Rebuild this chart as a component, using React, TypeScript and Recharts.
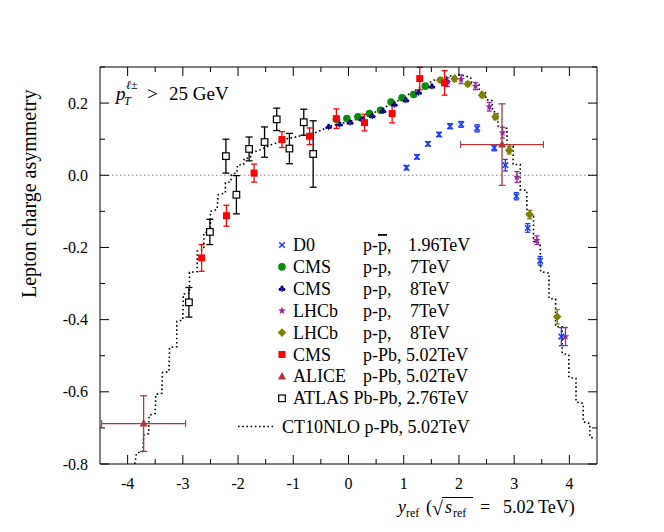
import React from 'react';
import { ComposedChart, Scatter, Line, XAxis, YAxis, ErrorBar, ReferenceLine } from 'recharts';

const FONT = '"Liberation Serif", "Times New Roman", serif';

// axis ticks
const xTicks = [-4, -3.5, -3, -2.5, -2, -1.5, -1, -0.5, 0, 0.5, 1, 1.5, 2, 2.5, 3, 3.5, 4];
const yTicks = [-0.8, -0.7, -0.6, -0.5, -0.4, -0.3, -0.2, -0.1, 0, 0.1, 0.2, 0.3];

// D0 p-pbar 1.96 TeV
const d0X = [1.05, 1.24, 1.44, 1.64, 1.84, 2.04, 2.33, 2.64, 2.84, 3.04, 3.245, 3.47, 3.855];
const d0Y = [0.021, 0.051, 0.087, 0.113, 0.136, 0.141, 0.13, 0.076, 0.028, -0.058, -0.146, -0.237, -0.447];
const d0Err = [0.006, 0.006, 0.006, 0.006, 0.007, 0.008, 0.01, 0.008, 0.016, 0.01, 0.012, 0.012, 0.025];

// CMS p-p 7 TeV
const cms7X = [-0.22, -0.03, 0.17, 0.38, 0.58, 0.77, 0.97, 1.18, 1.39];
const cms7Y = [0.155, 0.157, 0.162, 0.171, 0.18, 0.203, 0.215, 0.224, 0.247];

// CMS p-p 8 TeV
const cms8X = [-0.36, -0.16, 0.03, 0.245, 0.43, 0.625, 0.83, 1.04, 1.27, 1.51, 1.78];
const cms8Y = [0.134, 0.141, 0.146, 0.155, 0.164, 0.178, 0.196, 0.208, 0.229, 0.246, 0.261];

// LHCb p-p 7 TeV
const lhcb7X = [1.79, 2.04, 2.3, 2.55, 2.79, 3.05, 3.41, 3.93];
const lhcb7Y = [0.258, 0.266, 0.247, 0.19, 0.118, -0.005, -0.18, -0.447];
const lhcb7Err = [0.012, 0.012, 0.01, 0.012, 0.015, 0.015, 0.012, 0.025];

// LHCb p-p 8 TeV
const lhcb8X = [1.66, 1.92, 2.16, 2.42, 2.66, 2.91, 3.28, 3.78];
const lhcb8Y = [0.264, 0.267, 0.253, 0.222, 0.162, 0.069, -0.109, -0.392];
const lhcb8Err = [0.006, 0.006, 0.006, 0.007, 0.008, 0.01, 0.012, 0.02];

// CMS p-Pb 5.02 TeV
const cmsPbX = [-2.66, -2.21, -1.71, -1.205, -0.705, -0.22, 0.29, 0.79, 1.29, 1.74];
const cmsPbY = [-0.229, -0.112, 0.006, 0.099, 0.108, 0.157, 0.146, 0.171, 0.268, 0.256];
const cmsPbErr = [0.037, 0.029, 0.025, 0.022, 0.023, 0.027, 0.023, 0.026, 0.031, 0.034];

// ALICE p-Pb 5.02 TeV
const aliceX = [-3.71, 2.78];
const aliceY = [-0.688, 0.085];
const aliceYErr = [0.077, 0.113];
const aliceXErr = [0.76, 0.75];

// ATLAS Pb-Pb 2.76 TeV
const atlasX = [-2.89, -2.51, -2.22, -2.03, -1.8, -1.52, -1.3, -1.07, -0.81, -0.64];
const atlasY = [-0.352, -0.157, 0.053, -0.054, 0.073, 0.092, 0.155, 0.074, 0.147, 0.059];
const atlasErr = [0.041, 0.035, 0.047, 0.053, 0.033, 0.042, 0.031, 0.042, 0.036, 0.092];

// CT10NLO p-Pb 5.02 TeV (step-like theory curve)
const ct10X = [-3.87, -3.84, -3.72, -3.71, -3.62, -3.61, -3.5, -3.49, -3.38, -3.37, -3.25, -3.24, -3.11, -3.11, -3.0, -2.99, -2.88, -2.88, -2.74, -2.74, -2.62, -2.62, -2.5, -2.5, -2.38, -2.36, -2.23, -2.23, -2.13, -2.12, -2.02, -2.01, -1.9, -1.89, -1.78, -1.75, -1.6, -1.39, -1.11, -0.81, -0.6, -0.33, 0.03, 0.335, 0.64, 0.94, 1.24, 1.54, 1.84, 1.99, 2.12, 2.21, 2.23, 2.36, 2.37, 2.48, 2.49, 2.6, 2.61, 2.7, 2.71, 2.87, 2.87, 2.98, 2.98, 3.11, 3.11, 3.23, 3.23, 3.35, 3.35, 3.47, 3.48, 3.63, 3.63, 3.75, 3.75, 3.87, 3.87, 3.99, 3.99, 4.12, 4.12, 4.25, 4.25, 4.37, 4.37, 4.47];
const ct10Y = [-0.8, -0.77, -0.765, -0.72, -0.716, -0.665, -0.66, -0.607, -0.604, -0.547, -0.544, -0.477, -0.475, -0.405, -0.401, -0.329, -0.327, -0.269, -0.267, -0.21, -0.205, -0.16, -0.155, -0.1, -0.095, -0.054, -0.049, -0.021, -0.018, 0.002, 0.007, 0.028, 0.03, 0.046, 0.048, 0.062, 0.071, 0.085, 0.101, 0.111, 0.118, 0.136, 0.15, 0.164, 0.187, 0.21, 0.238, 0.263, 0.275, 0.278, 0.275, 0.271, 0.257, 0.252, 0.233, 0.229, 0.21, 0.207, 0.178, 0.173, 0.136, 0.13, 0.081, 0.081, 0.03, 0.03, -0.04, -0.042, -0.109, -0.114, -0.183, -0.188, -0.267, -0.271, -0.341, -0.343, -0.419, -0.42, -0.493, -0.498, -0.56, -0.563, -0.628, -0.632, -0.683, -0.688, -0.725, -0.73];

const pts = (xs: number[], ys: number[], ey?: number[], ex?: number[]) =>
  xs.map((x, i) => ({ x, y: ys[i], ey: ey ? ey[i] : 0, ex: ex ? ex[i] : 0 }));

const COL = {
  d0: '#1a3cff',
  cms7: '#0a8a0a',
  cms8: '#000080',
  lhcb7: '#9a2a9a',
  lhcb8: '#808000',
  cmsPb: '#ff0000',
  alice: '#b03838',
  atlas: '#000000',
};

// marker drawings
const markD0 = (cx: number, cy: number) => (
  <g stroke={COL.d0} strokeWidth={1.5}>
    <line x1={cx - 2.8} y1={cy - 2.8} x2={cx + 2.8} y2={cy + 2.8} />
    <line x1={cx - 2.8} y1={cy + 2.8} x2={cx + 2.8} y2={cy - 2.8} />
  </g>
);
const markCms7 = (cx: number, cy: number) => <circle cx={cx} cy={cy} r={3.8} fill={COL.cms7} />;
const markCms8 = (cx: number, cy: number) => (
  <g fill={COL.cms8}>
    <circle cx={cx} cy={cy - 1.6} r={1.6} />
    <circle cx={cx - 1.8} cy={cy + 0.6} r={1.6} />
    <circle cx={cx + 1.8} cy={cy + 0.6} r={1.6} />
    <rect x={cx - 0.6} y={cy} width={1.2} height={3} />
  </g>
);
const starPath = (cx: number, cy: number, r: number) => {
  let d = '';
  for (let i = 0; i < 10; i++) {
    const rr = i % 2 === 0 ? r : r * 0.42;
    const a = -Math.PI / 2 + (i * Math.PI) / 5;
    d += (i === 0 ? 'M' : 'L') + (cx + rr * Math.cos(a)).toFixed(2) + ',' + (cy + rr * Math.sin(a)).toFixed(2);
  }
  return d + 'Z';
};
const markLhcb7 = (cx: number, cy: number) => <path d={starPath(cx, cy, 4)} fill={COL.lhcb7} />;
const markLhcb8 = (cx: number, cy: number) => (
  <path d={`M${cx},${cy - 4.3}L${cx + 4.3},${cy}L${cx},${cy + 4.3}L${cx - 4.3},${cy}Z`} fill={COL.lhcb8} />
);
const markCmsPb = (cx: number, cy: number) => <rect x={cx - 3.5} y={cy - 3.5} width={7} height={7} fill={COL.cmsPb} />;
const markAlice = (cx: number, cy: number) => (
  <path d={`M${cx},${cy - 4.5}L${cx + 4},${cy + 3}L${cx - 4},${cy + 3}Z`} fill={COL.alice} />
);
const markAtlas = (cx: number, cy: number) => (
  <rect x={cx - 3.3} y={cy - 3.3} width={6.6} height={6.6} fill="#fff" stroke="#000" strokeWidth={1.2} />
);

const shapeOf = (fn: (cx: number, cy: number) => React.ReactElement) => (p: any) => fn(p.cx, p.cy);

// inward ticks on all four sides
const BottomTick = ({ x, y, payload }: any) => {
  const v = payload.value;
  const major = Number.isInteger(v);
  return (
    <g>
      <line x1={x} y1={y} x2={x} y2={y - (major ? 9 : 5)} stroke="#000" />
      {major && (
        <text x={x} y={y + 25} textAnchor="middle" fontSize={16} fontFamily={FONT} fill="#000">
          {v}
        </text>
      )}
    </g>
  );
};
const TopTick = ({ x, y, payload }: any) => {
  const major = Number.isInteger(payload.value);
  return <line x1={x} y1={y} x2={x} y2={y + (major ? 9 : 5)} stroke="#000" />;
};
const isMajorY = (v: number) => Math.abs(Math.round(v * 10)) % 2 === 0;
const LeftTick = ({ x, y, payload }: any) => {
  const v = payload.value;
  const major = isMajorY(v);
  return (
    <g>
      <line x1={x} y1={y} x2={x + (major ? 9 : 5)} y2={y} stroke="#000" />
      {major && v < 0.25 && (
        <text x={x - 12} y={y + 5.5} textAnchor="end" fontSize={16} fontFamily={FONT} fill="#000">
          {v.toFixed(1)}
        </text>
      )}
    </g>
  );
};
const RightTick = ({ x, y, payload }: any) => {
  const major = isMajorY(payload.value);
  return <line x1={x} y1={y} x2={x - (major ? 9 : 5)} y2={y} stroke="#000" />;
};

const legendRows = [
  { mark: markD0, name: 'D0', sys: 'p-p', bar: true, energy: '1.96TeV' },
  { mark: markCms7, name: 'CMS', sys: 'p-p,', bar: false, energy: '7TeV' },
  { mark: markCms8, name: 'CMS', sys: 'p-p,', bar: false, energy: '8TeV' },
  { mark: markLhcb7, name: 'LHCb', sys: 'p-p,', bar: false, energy: '7TeV' },
  { mark: markLhcb8, name: 'LHCb', sys: 'p-p,', bar: false, energy: '8TeV' },
  { mark: markCmsPb, name: 'CMS', sys: 'p-Pb, 5.02TeV', bar: false, energy: '' },
  { mark: markAlice, name: 'ALICE', sys: 'p-Pb, 5.02TeV', bar: false, energy: '' },
];

export default function App() {
  const W = 664;
  const H = 532;
  return (
    <div style={{ position: 'absolute', left: 0, top: 0, width: W, height: H, background: '#fff' }}>
      <ComposedChart width={W} height={H} margin={{ top: 57, right: 57, bottom: 38, left: 50 }}>
        <XAxis
          xAxisId={0}
          type="number"
          dataKey="x"
          domain={[-4.5, 4.5]}
          allowDataOverflow
          ticks={xTicks}
          interval={0}
          tick={BottomTick}
          tickLine={false}
          tickSize={0}
          tickMargin={0}
          height={30}
          axisLine={{ stroke: '#000' }}
        />
        <XAxis
          xAxisId="top"
          orientation="top"
          type="number"
          dataKey="x"
          domain={[-4.5, 4.5]}
          allowDataOverflow
          ticks={xTicks}
          interval={0}
          tick={TopTick}
          tickLine={false}
          tickSize={0}
          tickMargin={0}
          height={10}
          axisLine={{ stroke: '#000' }}
        />
        <YAxis
          yAxisId={0}
          type="number"
          dataKey="y"
          domain={[-0.8, 0.3]}
          allowDataOverflow
          ticks={yTicks}
          interval={0}
          tick={LeftTick}
          tickLine={false}
          tickSize={0}
          tickMargin={0}
          width={50}
          axisLine={{ stroke: '#000' }}
        />
        <YAxis
          yAxisId="right"
          orientation="right"
          type="number"
          dataKey="y"
          domain={[-0.8, 0.3]}
          allowDataOverflow
          ticks={yTicks}
          interval={0}
          tick={RightTick}
          tickLine={false}
          tickSize={0}
          tickMargin={0}
          width={10}
          axisLine={{ stroke: '#000' }}
        />
        <ReferenceLine y={0} stroke="#888" strokeDasharray="1.5 2.5" />
        <Line
          data={ct10X.map((x, i) => ({ x, y: ct10Y[i] }))}
          dataKey="y"
          type="linear"
          stroke="#000"
          strokeWidth={1.6}
          strokeDasharray="1.6 2.6"
          dot={false}
          activeDot={false}
          isAnimationActive={false}
        />
        <Scatter data={pts(atlasX, atlasY, atlasErr)} shape={shapeOf(markAtlas)} isAnimationActive={false}>
          <ErrorBar dataKey="ey" direction="y" width={3.5} stroke="#000" strokeWidth={1.3} />
        </Scatter>
        <Scatter data={pts(cms7X, cms7Y)} shape={shapeOf(markCms7)} isAnimationActive={false} />
        <Scatter data={pts(cms8X, cms8Y)} shape={shapeOf(markCms8)} isAnimationActive={false} />
        <Scatter data={pts(d0X, d0Y, d0Err)} shape={shapeOf(markD0)} isAnimationActive={false}>
          <ErrorBar dataKey="ey" direction="y" width={2.5} stroke={COL.d0} strokeWidth={1.3} />
        </Scatter>
        <Scatter data={pts(lhcb8X, lhcb8Y, lhcb8Err)} shape={shapeOf(markLhcb8)} isAnimationActive={false}>
          <ErrorBar dataKey="ey" direction="y" width={2.5} stroke={COL.lhcb8} strokeWidth={1.3} />
        </Scatter>
        <Scatter data={pts(lhcb7X, lhcb7Y, lhcb7Err)} shape={shapeOf(markLhcb7)} isAnimationActive={false}>
          <ErrorBar dataKey="ey" direction="y" width={2.5} stroke={COL.lhcb7} strokeWidth={1.3} />
        </Scatter>
        <Scatter data={pts(cmsPbX, cmsPbY, cmsPbErr)} shape={shapeOf(markCmsPb)} isAnimationActive={false}>
          <ErrorBar dataKey="ey" direction="y" width={3} stroke={COL.cmsPb} strokeWidth={1.3} />
        </Scatter>
        <Scatter data={pts(aliceX, aliceY, aliceYErr, aliceXErr)} shape={shapeOf(markAlice)} isAnimationActive={false}>
          <ErrorBar dataKey="ey" direction="y" width={3.5} stroke={COL.alice} strokeWidth={1.3} />
          <ErrorBar dataKey="ex" direction="x" width={3.5} stroke={COL.alice} strokeWidth={1.1} />
        </Scatter>
      </ComposedChart>

      <svg
        width={W}
        height={H}
        style={{ position: 'absolute', left: 0, top: 0, pointerEvents: 'none' }}
        fontFamily={FONT}
      >
        {/* y axis title */}
        <text x={0} y={0} fontSize={20} transform="translate(36,298) rotate(-90)" fill="#000">
          Lepton charge asymmetry
        </text>

        {/* x axis title */}
        <g fontSize={18} fill="#000">
          <text x={398} y={513} fontStyle="italic">y</text>
          <text x={406} y={517} fontSize={12}>ref</text>
          <text x={426} y={513}>(</text>
          <text x={432} y={515} fontSize={20}>√</text>
          <line x1={442} y1={497.5} x2={473} y2={497.5} stroke="#000" strokeWidth={1} />
          <text x={445} y={513} fontStyle="italic">s</text>
          <text x={453} y={517} fontSize={12}>ref</text>
          <text x={480} y={513}>=</text>
          <text x={503} y={513}>5.02</text>
          <text x={538} y={513}>TeV)</text>
        </g>

        {/* cut annotation */}
        <g fontSize={19} fill="#000">
          <text x={116} y={100} fontStyle="italic">p</text>
          <text x={124} y={105} fontSize={12} fontStyle="italic">T</text>
          <text x={126} y={89} fontSize={12} fontStyle="italic">ℓ</text>
          <text x={131} y={89} fontSize={12}>±</text>
          <text x={147} y={100}>&gt;</text>
          <text x={169} y={100}>25 GeV</text>
        </g>

        {/* legend */}
        <g fontSize={18} fill="#000">
          {legendRows.map((r, i) => {
            const cy = 245 + i * 21.9;
            return (
              <g key={i}>
                {r.mark(282, cy)}
                <text x={293} y={cy + 6}>{r.name}</text>
                {r.bar ? (
                  <text x={363} y={cy + 6}>
                    p-<tspan textDecoration="overline" style={{ textDecoration: 'overline' }}>p</tspan>,
                  </text>
                ) : (
                  <text x={363} y={cy + 6}>{r.sys}</text>
                )}
                {r.energy && (
                  <text x={r.bar ? 408 : 410} y={cy + 6}>
                    {r.energy}
                  </text>
                )}
              </g>
            );
          })}
          {markAtlas(282, 245 + 7 * 21.9)}
          <text x={293} y={245 + 7 * 21.9 + 6}>ATLAS Pb-Pb, 2.76TeV</text>
          <line x1={238} y1={426.5} x2={273} y2={426.5} stroke="#000" strokeWidth={1.6} strokeDasharray="1.6 2.6" />
          <text x={282} y={432.5}>CT10NLO p-Pb, 5.02TeV</text>
        </g>
      </svg>
    </div>
  );
}
